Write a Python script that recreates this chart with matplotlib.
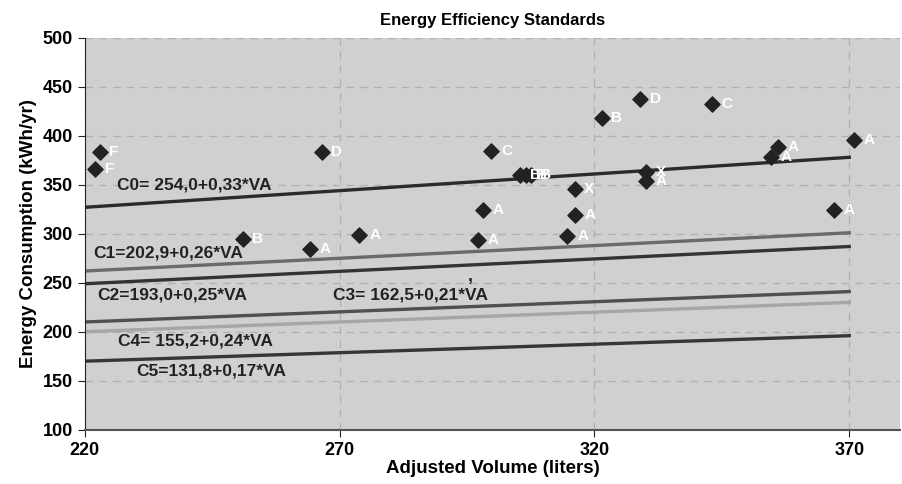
import matplotlib.pyplot as plt

plt.rcParams['font.family'] = ['Liberation Sans', 'DejaVu Sans']
plt.rcParams['font.weight'] = 'bold'

# scatter data: adjusted volume, consumption, class label
vol = [222.9, 222.1, 266.5, 251.0, 264.1, 273.9, 299.8, 305.4, 306.6, 307.5,
       298.2, 297.1, 316.1, 316.1, 314.7, 321.4, 329.0, 343.0, 330.2, 330.2,
       356.1, 354.7, 371.0, 367.0]
cons = [383, 366, 383, 295, 284, 299, 384, 360, 360, 360,
        324, 294, 346, 319, 298, 418, 438, 432, 363, 354,
        389, 378, 396, 324]
labels = ['F', 'F', 'D', 'B', 'A', 'A', 'C', 'B', 'B', 'B',
          'A', 'A', 'X', 'A', 'A', 'B', 'D', 'C', 'X', 'A',
          'A', 'A', 'A', 'A']

# standard lines (drawn from 220 to 370 liters)
line_names = ['C0= 254,0+0,33*VA', 'C1=202,9+0,26*VA', 'C2=193,0+0,25*VA',
              'C3= 162,5+0,21*VA', 'C4= 155,2+0,24*VA', 'C5=131,8+0,17*VA']
line_x = [220, 370]
line_start = [327, 262, 249, 210, 200, 170]
line_end = [378, 301, 287, 241, 230, 196]
line_colors = ['#2b2b2b', '#6a6a6a', '#333333', '#505050', '#a6a6a6', '#363636']
label_pos = [(226.3, 350), (221.6, 280), (222.4, 238), (268.8, 238), (226.5, 191), (230.0, 160)]

fig = plt.figure(figsize=(9.02, 4.84), dpi=100)
ax = fig.add_axes([0.094, 0.112, 0.904, 0.81])
ax.set_facecolor('#d0d0d0')

for i in range(len(line_names)):
    ax.plot(line_x, [line_start[i], line_end[i]], color=line_colors[i], lw=2.4, zorder=2)
    ax.text(label_pos[i][0], label_pos[i][1], line_names[i], fontsize=12.5, fontweight='bold',
            color='#222222', va='center', ha='left', zorder=4)
# stray comma above the C3 label
ax.text(295.6, 256, ',', fontsize=13, fontweight='bold', color='#222222', ha='center', va='center')

ax.scatter(vol, cons, marker='D', s=60, color='#222222', zorder=3)
for x, y, t in zip(vol, cons, labels):
    ax.annotate(t, (x, y), xytext=(7, 0), textcoords='offset points', color='white',
                fontsize=11, fontweight='bold', va='center', ha='left', zorder=4)

ax.set_xlim(220, 380)
ax.set_ylim(100, 500)
ax.set_xticks([220, 270, 320, 370])
ax.set_yticks(range(100, 501, 50))
ax.grid(True, color='#b0b0b0', linestyle=(0, (6, 5)), lw=0.9)
ax.set_axisbelow(True)
ax.spines['top'].set_visible(False)
ax.spines['right'].set_visible(False)
ax.spines['left'].set_color('#222222')
ax.spines['bottom'].set_color('#555555')
ax.spines['bottom'].set_linewidth(1.5)
ax.tick_params(labelsize=13, length=5, color='#222222')
for lab in ax.get_xticklabels() + ax.get_yticklabels():
    lab.set_fontweight('bold')

ax.set_title('Energy Efficiency Standards', fontsize=12, fontweight='bold', pad=9)
ax.set_xlabel('Adjusted Volume (liters)', fontsize=13.5, fontweight='bold', labelpad=1)
ax.set_ylabel('Energy Consumption (kWh/yr)', fontsize=13.5, fontweight='bold', labelpad=4)

fig.savefig('out.png', dpi=100)
